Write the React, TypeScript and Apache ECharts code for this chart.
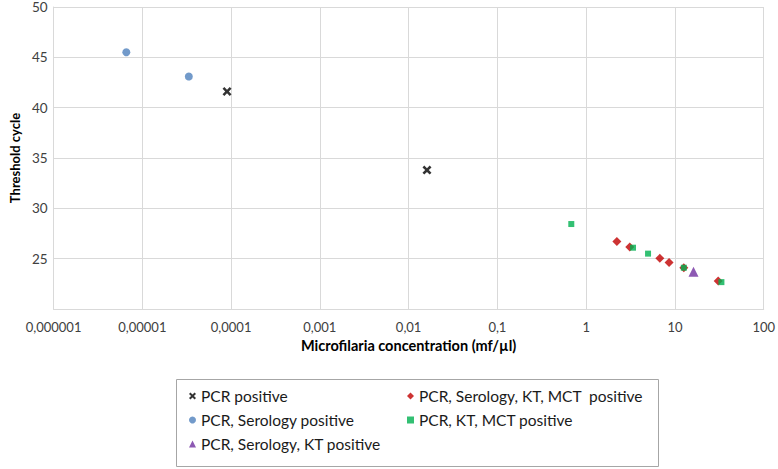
import React, { useEffect, useRef } from "react";
import * as echarts from "echarts";

const seriesNames = [
  "PCR positive",
  "PCR, Serology positive",
  "PCR, Serology, KT positive",
  "PCR, Serology, KT, MCT  positive",
  "PCR, KT, MCT positive",
];

const pcrX = [0.00009, 0.0161];
const pcrY = [41.6, 33.8];

const serologyX = [0.0000066, 0.0000334];
const serologyY = [45.5, 43.1];

const serologyKtX = [16.2];
const serologyKtY = [23.7];

const serologyKtMctX = [2.22, 3.1, 6.76, 8.59, 12.6, 30.7];
const serologyKtMctY = [26.7, 26.15, 25.03, 24.63, 24.1, 22.77];

const ktMctX = [0.68, 3.37, 4.98, 12.6, 33.4];
const ktMctY = [28.44, 26.09, 25.5, 24.1, 22.67];

const xTicks = [0.000001, 0.00001, 0.0001, 0.001, 0.01, 0.1, 1, 10, 100];
const yTicks = [20, 25, 30, 35, 40, 45, 50];

const pairs = (xs: number[], ys: number[]) => xs.map((x, i) => [x, ys[i]]);

const FONT = "Lato";
const crossPath =
  "path://M0,2 L2,0 L5,3 L8,0 L10,2 L7,5 L10,8 L8,10 L5,7 L2,10 L0,8 L3,5 Z";

export default function App() {
  const ref = useRef<HTMLDivElement>(null);
  useEffect(() => {
    if (!ref.current) return;
    const chart = echarts.init(ref.current, null, { renderer: "svg" });
    const fmtX = (v: number) => {
      const e = Math.round(Math.log10(v));
      return e < 0 ? v.toFixed(-e).replace(".", ",") : String(Math.round(v));
    };
    const legendText = { fontFamily: FONT, fontSize: 15.5, color: "#1a1a1a", lineHeight: 18 };
    chart.setOption({
      animation: false,
      backgroundColor: "#fff",
      grid: { left: 43, right: 12, top: 7, bottom: 160, containLabel: false },
      xAxis: {
        type: "log",
        logBase: 10,
        min: xTicks[0],
        max: xTicks[xTicks.length - 1],
        name: "Microfilaria concentration (mf/µl)",
        nameLocation: "middle",
        nameGap: 20,
        nameTextStyle: { fontFamily: FONT, fontSize: 14.5, fontWeight: "bold", color: "#000" },
        axisLine: { show: true, lineStyle: { color: "#D9D9D9" } },
        axisTick: { show: false },
        splitLine: { show: true, lineStyle: { color: "#D9D9D9" } },
        axisLabel: { fontFamily: FONT, fontSize: 13, color: "#404040", margin: 11, formatter: fmtX },
      },
      yAxis: {
        type: "value",
        min: yTicks[0],
        max: yTicks[yTicks.length - 1],
        interval: 5,
        name: "Threshold cycle",
        nameLocation: "middle",
        nameGap: 27,
        nameTextStyle: { fontFamily: FONT, fontSize: 13, fontWeight: "bold", color: "#000" },
        axisLine: { show: true, lineStyle: { color: "#D9D9D9" } },
        axisTick: { show: false },
        splitLine: { show: true, lineStyle: { color: "#D9D9D9" } },
        axisLabel: {
          fontFamily: FONT,
          fontSize: 13.5,
          color: "#404040",
          margin: 6,
          formatter: (v: number) => (v === yTicks[0] ? "" : String(v)),
        },
      },
      legend: [
        {
          data: [seriesNames[0], seriesNames[1], seriesNames[2]],
          orient: "vertical",
          left: 189,
          top: 387,
          padding: 0,
          itemWidth: 7,
          itemHeight: 7,
          itemGap: 6,
          selectedMode: false,
          textStyle: legendText,
        },
        {
          data: [seriesNames[3], seriesNames[4]],
          orient: "vertical",
          left: 407,
          top: 387,
          padding: 0,
          itemWidth: 7,
          itemHeight: 7,
          itemGap: 6,
          selectedMode: false,
          textStyle: legendText,
        },
      ],
      graphic: [
        {
          type: "rect",
          shape: { x: 176.5, y: 379.5, width: 482, height: 87 },
          style: { fill: "transparent", stroke: "#A6A6A6", lineWidth: 1 },
          silent: true,
        },
      ],
      series: [
        {
          name: seriesNames[0],
          type: "scatter",
          symbol: crossPath,
          symbolSize: 9,
          itemStyle: { color: "#000" },
          data: pairs(pcrX, pcrY),
        },
        {
          name: seriesNames[1],
          type: "scatter",
          symbol: "circle",
          symbolSize: 8,
          itemStyle: { color: "#4F81BD" },
          data: pairs(serologyX, serologyY),
        },
        {
          name: seriesNames[2],
          type: "scatter",
          symbol: "triangle",
          symbolSize: 10,
          itemStyle: { color: "#7030A0" },
          data: pairs(serologyKtX, serologyKtY),
        },
        {
          name: seriesNames[3],
          type: "scatter",
          symbol: "diamond",
          symbolSize: 9,
          itemStyle: { color: "#C00000" },
          data: pairs(serologyKtMctX, serologyKtMctY),
        },
        {
          name: seriesNames[4],
          type: "scatter",
          symbol: "rect",
          symbolSize: 6,
          itemStyle: { color: "#00B050" },
          data: pairs(ktMctX, ktMctY),
        },
      ],
    });
    return () => chart.dispose();
  }, []);
  return (
    <div
      ref={ref}
      style={{ position: "fixed", left: 0, top: 0, width: 778, height: 469 }}
    />
  );
}
